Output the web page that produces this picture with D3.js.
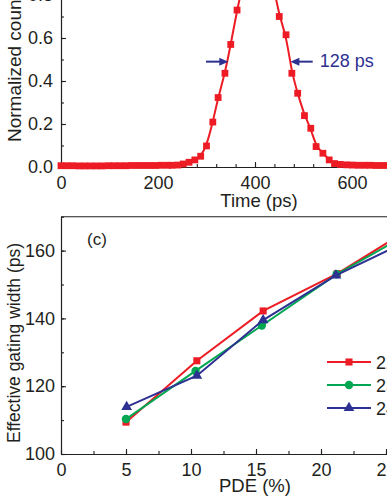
<!DOCTYPE html>
<html>
<head>
<meta charset="utf-8">
<script src="https://cdn.jsdelivr.net/npm/d3@7"></script>
<style>
body { margin: 0; background: #fff; }
svg { display: block; }
text { font-family: "Liberation Sans", Arial, sans-serif; fill: #231f20; }
.axis path, .axis line { stroke: #231f20; stroke-width: 1.1; }
.axis text { font-size: 18px; }
</style>
</head>
<body>
<svg id="chart" width="387" height="501"></svg>
<script>
// ---- top panel: timing histogram (only the lower part is in view) ----
var timeVals = [0, 12, 24, 37, 49, 61, 73, 85, 98, 110, 122, 134, 146, 159, 171, 183, 195, 207, 220, 229,
	241, 252, 264, 276, 288, 300, 313, 324, 338, 350, 363, 375, 387, 400, 412, 424, 437,
	450, 464, 476, 488, 502, 515, 526, 540, 553, 564, 576, 589, 601, 613, 626, 638, 650, 662, 675, 687, 699];
var countVals = [0.006, 0.006, 0.006, 0.005, 0.005, 0.005, 0.005, 0.005, 0.006, 0.006, 0.006, 0.006, 0.007, 0.007, 0.007, 0.007, 0.007, 0.008, 0.008, 0.008,
	0.009, 0.014, 0.022, 0.033, 0.050, 0.098, 0.209, 0.323, 0.436, 0.570, 0.730, 0.85, 0.94, 0.99, 1.0, 0.96, 0.86,
	0.70, 0.615, 0.436, 0.343, 0.239, 0.180, 0.095, 0.064, 0.033, 0.016, 0.012, 0.010, 0.009, 0.008, 0.008, 0.008, 0.007, 0.007, 0.007, 0.007, 0.007];
var timeTicks = [0, 200, 400, 600, 800];
var countTicks = [0, 0.2, 0.4, 0.6, 0.8, 1.0];
var fwhmText = "128 ps";

// ---- bottom panel (c): effective gating width vs PDE ----
var pdeRed = [5.0, 10.45, 15.55, 21.25, 26.8];
var gateRed = [109.4, 127.5, 142.2, 153.2, 166.3];
var pdeGreen = [5.0, 10.35, 15.45, 21.2, 26.8];
var gateGreen = [110.3, 124.5, 137.9, 153.0, 165.1];
var pdeBlue = [5.05, 10.45, 15.55, 21.15, 26.8];
var gateBlue = [113.9, 123.1, 139.5, 152.7, 163.1];
var pdeTicks = [0, 5, 10, 15, 20, 25, 30];
var gateTicks = [100, 120, 140, 160];
var legendLabels = ["223 K", "233 K", "243 K"];

var RED = "#ed1c24", GREEN = "#00a651", BLUE = "#2e3192";

var svg = d3.select("#chart");

function minorVals(ticks, step)
{
	var out = [];
	for (var v = ticks[0]; v <= ticks[ticks.length - 1] + 1e-9; v += step) out.push(+v.toFixed(4));
	return out;
}

/* ---------- top panel ---------- */
var xT = d3.scaleLinear().domain([0, 800]).range([61, 449]);
var yT = d3.scaleLinear().domain([0, 1]).range([167, -48]);

svg.append("g").attr("class", "axis").attr("transform", "translate(0,167)")
	.call(d3.axisBottom(xT).tickValues(minorVals(timeTicks, 40)).tickSize(-3).tickFormat("").tickSizeOuter(0));
svg.append("g").attr("class", "axis").attr("transform", "translate(0,167)")
	.call(d3.axisBottom(xT).tickValues(timeTicks).tickSize(-5).tickPadding(9).tickSizeOuter(0));
svg.append("g").attr("class", "axis").attr("transform", "translate(61,0)")
	.call(d3.axisLeft(yT).tickValues(minorVals(countTicks, 0.1)).tickSize(-3).tickFormat("").tickSizeOuter(0));
svg.append("g").attr("class", "axis").attr("transform", "translate(61,0)")
	.call(d3.axisLeft(yT).tickValues(countTicks).tickSize(-5).tickPadding(8).tickSizeOuter(0)
	.tickFormat(d3.format(".1f")));

var topData = timeVals.map(function(t, i) { return [t, countVals[i]]; });

svg.append("path")
	.datum(topData)
	.attr("fill", "none")
	.attr("stroke", RED)
	.attr("stroke-width", 2)
	.attr("d", d3.line().x(function(d) { return xT(d[0]); }).y(function(d) { return yT(d[1]); })
		.curve(d3.curveBasis));

svg.append("g").selectAll("rect")
	.data(topData)
	.enter()
	.append("rect")
	.attr("x", function(d) { return xT(d[0]) - 3.4; })
	.attr("y", function(d) { return yT(d[1]) - 3.4; })
	.attr("width", 6.8)
	.attr("height", 6.8)
	.attr("fill", RED);

// FWHM arrows
var halfLevel = 0.49, leftEdge = 345, rightEdge = 473, arrowLen = 46;
function arrow(tail, tip)
{
	var x0 = xT(tail), x1 = xT(tip), y = yT(halfLevel), dir = x1 > x0 ? 1 : -1;
	svg.append("line").attr("x1", x0).attr("x2", x1 - dir * 6).attr("y1", y).attr("y2", y)
		.attr("stroke", BLUE).attr("stroke-width", 2);
	svg.append("path")
		.attr("d", "M" + x1 + "," + y + "L" + (x1 - dir * 9) + "," + (y - 4) + "L" + (x1 - dir * 9) + "," + (y + 4) + "Z")
		.attr("fill", BLUE);
}
arrow(leftEdge - arrowLen, leftEdge);
arrow(rightEdge + arrowLen, rightEdge);

svg.append("text")
	.attr("x", xT(rightEdge + arrowLen) + 7)
	.attr("y", 67)
	.style("font-size", "18px")
	.style("fill", BLUE)
	.text(fwhmText);

svg.append("text")
	.attr("transform", "translate(21,142) rotate(-90)")
	.style("font-size", "19px")
	.text("Normalized counts");

svg.append("text")
	.attr("x", 259)
	.attr("y", 207)
	.attr("text-anchor", "middle")
	.style("font-size", "18.5px")
	.text("Time (ps)");

/* ---------- bottom panel (c) ---------- */
var xB = d3.scaleLinear().domain([0, 30]).range([61, 451]);
var yB = d3.scaleLinear().domain([100, 170]).range([454, 216.7]);

svg.append("line")
	.attr("x1", 61).attr("x2", 451).attr("y1", yB(170)).attr("y2", yB(170))
	.attr("stroke", "#231f20").attr("stroke-width", 1.1);

svg.append("g").attr("class", "axis").attr("transform", "translate(0,454)")
	.call(d3.axisBottom(xB).tickValues(minorVals(pdeTicks, 2.5)).tickSize(-3).tickFormat("").tickSizeOuter(0));
svg.append("g").attr("class", "axis").attr("transform", "translate(0,454)")
	.call(d3.axisBottom(xB).tickValues(pdeTicks).tickSize(-5).tickPadding(9).tickSizeOuter(0));
svg.append("g").attr("class", "axis").attr("transform", "translate(61,0)")
	.call(d3.axisLeft(yB).tickValues(d3.range(100, 171, 10)).tickSize(-3).tickFormat("").tickSizeOuter(0));
svg.append("g").attr("class", "axis").attr("transform", "translate(61,0)")
	.call(d3.axisLeft(yB).tickValues(gateTicks).tickSize(-5).tickPadding(6).tickSizeOuter(0));

var series = [
	{ x: pdeRed, y: gateRed, color: RED, symbol: d3.symbolSquare, size: 50 },
	{ x: pdeGreen, y: gateGreen, color: GREEN, symbol: d3.symbolCircle, size: 56 },
	{ x: pdeBlue, y: gateBlue, color: BLUE, symbol: d3.symbolTriangle, size: 50 }
];

var line = d3.line().x(function(d) { return xB(d[0]); }).y(function(d) { return yB(d[1]); });

series.forEach(function(s)
{
	var pts = s.x.map(function(v, i) { return [v, s.y[i]]; });
	svg.append("path")
		.datum(pts)
		.attr("fill", "none")
		.attr("stroke", s.color)
		.attr("stroke-width", 2)
		.attr("d", line);
	svg.append("g").selectAll("path")
		.data(pts)
		.enter()
		.append("path")
		.attr("transform", function(d) { return "translate(" + xB(d[0]) + "," + yB(d[1]) + ")"; })
		.attr("d", d3.symbol().type(s.symbol).size(s.size))
		.attr("fill", s.color);
});

// legend
series.forEach(function(s, i)
{
	var y = 362 + i * 23;
	svg.append("line").attr("x1", 327).attr("x2", 371).attr("y1", y).attr("y2", y)
		.attr("stroke", s.color).attr("stroke-width", 2);
	svg.append("path")
		.attr("transform", "translate(349," + y + ")")
		.attr("d", d3.symbol().type(s.symbol).size(s.size))
		.attr("fill", s.color);
	svg.append("text")
		.attr("x", 376)
		.attr("y", y + 6.5)
		.style("font-size", "18px")
		.text(legendLabels[i]);
});

svg.append("text")
	.attr("x", 87)
	.attr("y", 245)
	.style("font-size", "17px")
	.text("(c)");

svg.append("text")
	.attr("transform", "translate(20," + 343 + ") rotate(-90)")
	.attr("text-anchor", "middle")
	.style("font-size", "17.5px")
	.text("Effective gating width (ps)");

svg.append("text")
	.attr("x", 255)
	.attr("y", 492)
	.attr("text-anchor", "middle")
	.style("font-size", "18.5px")
	.text("PDE (%)");
</script>
</body>
</html>
